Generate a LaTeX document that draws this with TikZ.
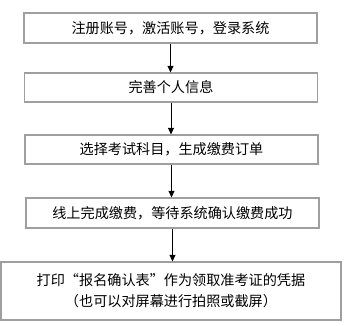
\documentclass[tikz,border=0pt]{standalone}
\usepackage{fontspec}
\setmainfont{Noto Sans CJK SC}
\usepackage{tikz}
\usetikzlibrary{arrows.meta}
\tikzset{
  stepbox/.style = {draw=gray!75, line width=0.8pt, fill=white, inner sep=2pt,
                    font=\fontsize{10.6}{15.5}\selectfont, align=center,
                    minimum width=219.75pt, minimum height=22.5pt},
  flowar/.style  = {-{Triangle[length=5pt,width=4.5pt]}, black, line width=0.6pt}
}
\begin{document}
\begin{tikzpicture}[x=0.75pt,y=-0.75pt]
  \useasboundingbox (0,0) rectangle (344,326);
  % boxes placed at pixel centres of the original chart
  \node[stepbox] (reg)   at (170.5,28)  {注册账号，激活账号，登录系统};
  \node[stepbox, minimum height=21.75pt] (info)  at (171,87.5)  {完善个人信息};
  \node[stepbox, minimum height=21.75pt] (subj)  at (171.5,149.5) {选择考试科目，生成缴费订单};
  \node[stepbox] (pay)   at (172.5,213) {线上完成缴费，等待系统确认缴费成功};
  \node[stepbox, minimum width=255pt, minimum height=43.5pt] (print) at (171,291)
       {打印“报名确认表”作为领取准考证的凭据\\（也可以对屏幕进行拍照或截屏）};
  \foreach \a/\b in {reg/info, info/subj, subj/pay, pay/print}
    \draw[flowar] (\a.south) -- (\a.south |- \b.north);
\end{tikzpicture}
\end{document}
